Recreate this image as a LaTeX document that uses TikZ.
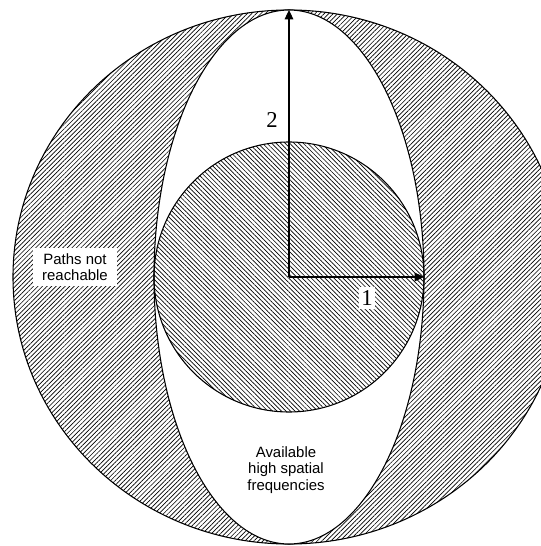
\documentclass[tikz,border=0pt]{standalone}
\usepackage{fontspec}
\setmainfont{Liberation Serif}
\setsansfont{Liberation Sans}
\usetikzlibrary{patterns.meta,arrows.meta}

\begin{document}
\begin{tikzpicture}
  [x=0.75pt, y=0.75pt, line width=0.8pt,
   hatchout/.style={pattern={Lines[angle=45, distance=2.4pt, line width=0.5pt]}},
   hatchin/.style={pattern={Lines[angle=-45, distance=2.4pt, line width=0.5pt]}},
   axis/.style={-{Triangle[length=7pt, width=6.5pt]}},
   numlabel/.style={font=\fontsize{17}{17}\selectfont, fill=white, inner xsep=2pt, inner ysep=3pt},
   note/.style={font=\sffamily\fontsize{11.2}{12.5}\selectfont, align=center}]

  \useasboundingbox (-289,-269) rectangle (252,277);
  \fill[white] (-289,-269) rectangle (252,277);
  \clip (-289,-269) rectangle (252,277);

  \coordinate (o) at (0,0);
  \coordinate (top) at (0,267);
  \coordinate (right) at (135,0);

  % outer region, lens of available frequencies, inner disc
  \draw[hatchout] (o) ellipse [x radius=276, y radius=267];
  \draw[fill=white] (o) ellipse [x radius=135, y radius=267];
  \draw[hatchin] (o) circle [radius=135];

  \draw[axis] (o) -- (top);
  \draw[axis] (o) -- (right);

  \node[numlabel, fill=none] (n2) at (-17,157) {2};
  \node[numlabel] (n1) at (78,-21) {1};

  \node[note, fill=white, inner xsep=7pt, inner ysep=4pt] (paths) at (-214,10) {Paths not\\reachable};
  \node[note] (avail) at (-3,-193) {Available\\high spatial\\frequencies};
\end{tikzpicture}
\end{document}
